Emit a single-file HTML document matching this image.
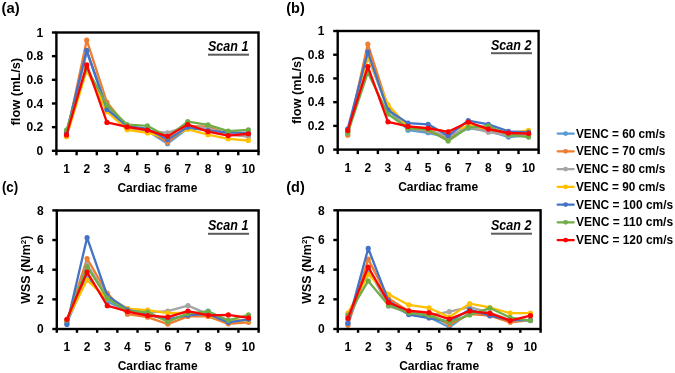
<!DOCTYPE html>
<html><head><meta charset="utf-8"><style>
html,body{margin:0;padding:0;background:#fff;}
body{width:675px;height:373px;overflow:hidden;font-family:"Liberation Sans",sans-serif;}
svg{display:block;will-change:transform;}
</style></head><body>
<svg width="675" height="373" viewBox="0 0 675 373">
<polyline points="66.50,133.06 86.72,51.43 106.93,108.21 127.13,127.14 147.34,130.69 167.56,143.70 187.77,128.32 207.98,129.51 228.19,134.24 248.40,135.42" fill="none" stroke="#5B9BD5" stroke-width="2.3" stroke-linejoin="round"/>
<circle cx="66.50" cy="133.06" r="2.6" fill="#5B9BD5"/>
<circle cx="86.72" cy="51.43" r="2.6" fill="#5B9BD5"/>
<circle cx="106.93" cy="108.21" r="2.6" fill="#5B9BD5"/>
<circle cx="127.13" cy="127.14" r="2.6" fill="#5B9BD5"/>
<circle cx="147.34" cy="130.69" r="2.6" fill="#5B9BD5"/>
<circle cx="167.56" cy="143.70" r="2.6" fill="#5B9BD5"/>
<circle cx="187.77" cy="128.32" r="2.6" fill="#5B9BD5"/>
<circle cx="207.98" cy="129.51" r="2.6" fill="#5B9BD5"/>
<circle cx="228.19" cy="134.24" r="2.6" fill="#5B9BD5"/>
<circle cx="248.40" cy="135.42" r="2.6" fill="#5B9BD5"/>
<polyline points="66.50,136.60 86.72,40.19 106.93,102.30 127.13,127.14 147.34,129.51 167.56,142.28 187.77,125.96 207.98,126.67 228.19,134.24 248.40,136.60" fill="none" stroke="#ED7D31" stroke-width="2.3" stroke-linejoin="round"/>
<circle cx="66.50" cy="136.60" r="2.6" fill="#ED7D31"/>
<circle cx="86.72" cy="40.19" r="2.6" fill="#ED7D31"/>
<circle cx="106.93" cy="102.30" r="2.6" fill="#ED7D31"/>
<circle cx="127.13" cy="127.14" r="2.6" fill="#ED7D31"/>
<circle cx="147.34" cy="129.51" r="2.6" fill="#ED7D31"/>
<circle cx="167.56" cy="142.28" r="2.6" fill="#ED7D31"/>
<circle cx="187.77" cy="125.96" r="2.6" fill="#ED7D31"/>
<circle cx="207.98" cy="126.67" r="2.6" fill="#ED7D31"/>
<circle cx="228.19" cy="134.24" r="2.6" fill="#ED7D31"/>
<circle cx="248.40" cy="136.60" r="2.6" fill="#ED7D31"/>
<polyline points="66.50,135.42 86.72,51.43 106.93,105.85 127.13,128.32 147.34,130.69 167.56,132.94 187.77,125.96 207.98,128.32 228.19,134.24 248.40,136.37" fill="none" stroke="#A5A5A5" stroke-width="2.3" stroke-linejoin="round"/>
<circle cx="66.50" cy="135.42" r="2.6" fill="#A5A5A5"/>
<circle cx="86.72" cy="51.43" r="2.6" fill="#A5A5A5"/>
<circle cx="106.93" cy="105.85" r="2.6" fill="#A5A5A5"/>
<circle cx="127.13" cy="128.32" r="2.6" fill="#A5A5A5"/>
<circle cx="147.34" cy="130.69" r="2.6" fill="#A5A5A5"/>
<circle cx="167.56" cy="132.94" r="2.6" fill="#A5A5A5"/>
<circle cx="187.77" cy="125.96" r="2.6" fill="#A5A5A5"/>
<circle cx="207.98" cy="128.32" r="2.6" fill="#A5A5A5"/>
<circle cx="228.19" cy="134.24" r="2.6" fill="#A5A5A5"/>
<circle cx="248.40" cy="136.37" r="2.6" fill="#A5A5A5"/>
<polyline points="66.50,136.60 86.72,70.36 106.93,111.76 127.13,129.74 147.34,132.94 167.56,137.79 187.77,129.27 207.98,134.71 228.19,138.85 248.40,140.51" fill="none" stroke="#FFC000" stroke-width="2.3" stroke-linejoin="round"/>
<circle cx="66.50" cy="136.60" r="2.6" fill="#FFC000"/>
<circle cx="86.72" cy="70.36" r="2.6" fill="#FFC000"/>
<circle cx="106.93" cy="111.76" r="2.6" fill="#FFC000"/>
<circle cx="127.13" cy="129.74" r="2.6" fill="#FFC000"/>
<circle cx="147.34" cy="132.94" r="2.6" fill="#FFC000"/>
<circle cx="167.56" cy="137.79" r="2.6" fill="#FFC000"/>
<circle cx="187.77" cy="129.27" r="2.6" fill="#FFC000"/>
<circle cx="207.98" cy="134.71" r="2.6" fill="#FFC000"/>
<circle cx="228.19" cy="138.85" r="2.6" fill="#FFC000"/>
<circle cx="248.40" cy="140.51" r="2.6" fill="#FFC000"/>
<polyline points="66.50,132.46 86.72,50.36 106.93,109.40 127.13,125.96 147.34,128.80 167.56,139.44 187.77,127.14 207.98,130.69 228.19,132.46 248.40,132.94" fill="none" stroke="#4472C4" stroke-width="2.3" stroke-linejoin="round"/>
<circle cx="66.50" cy="132.46" r="2.6" fill="#4472C4"/>
<circle cx="86.72" cy="50.36" r="2.6" fill="#4472C4"/>
<circle cx="106.93" cy="109.40" r="2.6" fill="#4472C4"/>
<circle cx="127.13" cy="125.96" r="2.6" fill="#4472C4"/>
<circle cx="147.34" cy="128.80" r="2.6" fill="#4472C4"/>
<circle cx="167.56" cy="139.44" r="2.6" fill="#4472C4"/>
<circle cx="187.77" cy="127.14" r="2.6" fill="#4472C4"/>
<circle cx="207.98" cy="130.69" r="2.6" fill="#4472C4"/>
<circle cx="228.19" cy="132.46" r="2.6" fill="#4472C4"/>
<circle cx="248.40" cy="132.94" r="2.6" fill="#4472C4"/>
<polyline points="66.50,130.10 86.72,67.99 106.93,105.25 127.13,124.54 147.34,125.84 167.56,136.84 187.77,121.70 207.98,124.89 228.19,131.04 248.40,129.86" fill="none" stroke="#70AD47" stroke-width="2.3" stroke-linejoin="round"/>
<circle cx="66.50" cy="130.10" r="2.6" fill="#70AD47"/>
<circle cx="86.72" cy="67.99" r="2.6" fill="#70AD47"/>
<circle cx="106.93" cy="105.25" r="2.6" fill="#70AD47"/>
<circle cx="127.13" cy="124.54" r="2.6" fill="#70AD47"/>
<circle cx="147.34" cy="125.84" r="2.6" fill="#70AD47"/>
<circle cx="167.56" cy="136.84" r="2.6" fill="#70AD47"/>
<circle cx="187.77" cy="121.70" r="2.6" fill="#70AD47"/>
<circle cx="207.98" cy="124.89" r="2.6" fill="#70AD47"/>
<circle cx="228.19" cy="131.04" r="2.6" fill="#70AD47"/>
<circle cx="248.40" cy="129.86" r="2.6" fill="#70AD47"/>
<polyline points="66.50,134.95 86.72,64.91 106.93,122.41 127.13,126.90 147.34,130.22 167.56,136.37 187.77,124.54 207.98,131.64 228.19,135.54 248.40,133.76" fill="none" stroke="#FF0000" stroke-width="2.3" stroke-linejoin="round"/>
<circle cx="66.50" cy="134.95" r="2.6" fill="#FF0000"/>
<circle cx="86.72" cy="64.91" r="2.6" fill="#FF0000"/>
<circle cx="106.93" cy="122.41" r="2.6" fill="#FF0000"/>
<circle cx="127.13" cy="126.90" r="2.6" fill="#FF0000"/>
<circle cx="147.34" cy="130.22" r="2.6" fill="#FF0000"/>
<circle cx="167.56" cy="136.37" r="2.6" fill="#FF0000"/>
<circle cx="187.77" cy="124.54" r="2.6" fill="#FF0000"/>
<circle cx="207.98" cy="131.64" r="2.6" fill="#FF0000"/>
<circle cx="228.19" cy="135.54" r="2.6" fill="#FF0000"/>
<circle cx="248.40" cy="133.76" r="2.6" fill="#FF0000"/>
<rect x="56.40" y="32.50" width="202.10" height="118.30" fill="none" stroke="#000" stroke-width="2.4"/>
<line x1="51.90" y1="150.80" x2="56.40" y2="150.80" stroke="#000" stroke-width="2.4"/>
<text x="43.20" y="155.00" text-anchor="end" font-family="Liberation Sans, sans-serif" font-weight="bold" font-size="12">0</text>
<line x1="51.90" y1="127.14" x2="56.40" y2="127.14" stroke="#000" stroke-width="2.4"/>
<text x="43.20" y="131.34" text-anchor="end" font-family="Liberation Sans, sans-serif" font-weight="bold" font-size="12">0.2</text>
<line x1="51.90" y1="103.48" x2="56.40" y2="103.48" stroke="#000" stroke-width="2.4"/>
<text x="43.20" y="107.68" text-anchor="end" font-family="Liberation Sans, sans-serif" font-weight="bold" font-size="12">0.4</text>
<line x1="51.90" y1="79.82" x2="56.40" y2="79.82" stroke="#000" stroke-width="2.4"/>
<text x="43.20" y="84.02" text-anchor="end" font-family="Liberation Sans, sans-serif" font-weight="bold" font-size="12">0.6</text>
<line x1="51.90" y1="56.16" x2="56.40" y2="56.16" stroke="#000" stroke-width="2.4"/>
<text x="43.20" y="60.36" text-anchor="end" font-family="Liberation Sans, sans-serif" font-weight="bold" font-size="12">0.8</text>
<line x1="51.90" y1="32.50" x2="56.40" y2="32.50" stroke="#000" stroke-width="2.4"/>
<text x="43.20" y="36.70" text-anchor="end" font-family="Liberation Sans, sans-serif" font-weight="bold" font-size="12">1</text>
<line x1="56.40" y1="150.80" x2="56.40" y2="155.30" stroke="#000" stroke-width="2.4"/>
<line x1="76.61" y1="150.80" x2="76.61" y2="155.30" stroke="#000" stroke-width="2.4"/>
<line x1="96.82" y1="150.80" x2="96.82" y2="155.30" stroke="#000" stroke-width="2.4"/>
<line x1="117.03" y1="150.80" x2="117.03" y2="155.30" stroke="#000" stroke-width="2.4"/>
<line x1="137.24" y1="150.80" x2="137.24" y2="155.30" stroke="#000" stroke-width="2.4"/>
<line x1="157.45" y1="150.80" x2="157.45" y2="155.30" stroke="#000" stroke-width="2.4"/>
<line x1="177.66" y1="150.80" x2="177.66" y2="155.30" stroke="#000" stroke-width="2.4"/>
<line x1="197.87" y1="150.80" x2="197.87" y2="155.30" stroke="#000" stroke-width="2.4"/>
<line x1="218.08" y1="150.80" x2="218.08" y2="155.30" stroke="#000" stroke-width="2.4"/>
<line x1="238.29" y1="150.80" x2="238.29" y2="155.30" stroke="#000" stroke-width="2.4"/>
<line x1="258.50" y1="150.80" x2="258.50" y2="155.30" stroke="#000" stroke-width="2.4"/>
<text x="66.50" y="173.10" text-anchor="middle" font-family="Liberation Sans, sans-serif" font-weight="bold" font-size="12">1</text>
<text x="86.72" y="173.10" text-anchor="middle" font-family="Liberation Sans, sans-serif" font-weight="bold" font-size="12">2</text>
<text x="106.93" y="173.10" text-anchor="middle" font-family="Liberation Sans, sans-serif" font-weight="bold" font-size="12">3</text>
<text x="127.13" y="173.10" text-anchor="middle" font-family="Liberation Sans, sans-serif" font-weight="bold" font-size="12">4</text>
<text x="147.34" y="173.10" text-anchor="middle" font-family="Liberation Sans, sans-serif" font-weight="bold" font-size="12">5</text>
<text x="167.56" y="173.10" text-anchor="middle" font-family="Liberation Sans, sans-serif" font-weight="bold" font-size="12">6</text>
<text x="187.77" y="173.10" text-anchor="middle" font-family="Liberation Sans, sans-serif" font-weight="bold" font-size="12">7</text>
<text x="207.98" y="173.10" text-anchor="middle" font-family="Liberation Sans, sans-serif" font-weight="bold" font-size="12">8</text>
<text x="228.19" y="173.10" text-anchor="middle" font-family="Liberation Sans, sans-serif" font-weight="bold" font-size="12">9</text>
<text x="248.40" y="173.10" text-anchor="middle" font-family="Liberation Sans, sans-serif" font-weight="bold" font-size="12">10</text>
<text x="157.45" y="192.20" text-anchor="middle" font-family="Liberation Sans, sans-serif" font-weight="bold" font-size="12">Cardiac frame</text>
<text x="208.00" y="51.00" font-family="Liberation Sans, sans-serif" font-weight="bold" font-style="italic" font-size="14.5" textLength="40.4" lengthAdjust="spacingAndGlyphs">Scan 1</text>
<rect x="208.00" y="53.70" width="41" height="2" fill="#5c5c5c"/>
<text transform="translate(20.00,91.65) rotate(-90)" text-anchor="middle" font-family="Liberation Sans, sans-serif" font-weight="bold" font-size="12" textLength="67.5" lengthAdjust="spacingAndGlyphs">flow (mL/s)</text>
<polyline points="347.75,131.81 367.83,54.72 387.93,109.28 408.01,130.15 428.11,132.76 448.19,137.74 468.29,128.25 488.38,130.62 508.47,137.03 528.56,135.37" fill="none" stroke="#5B9BD5" stroke-width="2.3" stroke-linejoin="round"/>
<circle cx="347.75" cy="131.81" r="2.6" fill="#5B9BD5"/>
<circle cx="367.83" cy="54.72" r="2.6" fill="#5B9BD5"/>
<circle cx="387.93" cy="109.28" r="2.6" fill="#5B9BD5"/>
<circle cx="408.01" cy="130.15" r="2.6" fill="#5B9BD5"/>
<circle cx="428.11" cy="132.76" r="2.6" fill="#5B9BD5"/>
<circle cx="448.19" cy="137.74" r="2.6" fill="#5B9BD5"/>
<circle cx="468.29" cy="128.25" r="2.6" fill="#5B9BD5"/>
<circle cx="488.38" cy="130.62" r="2.6" fill="#5B9BD5"/>
<circle cx="508.47" cy="137.03" r="2.6" fill="#5B9BD5"/>
<circle cx="528.56" cy="135.37" r="2.6" fill="#5B9BD5"/>
<polyline points="347.75,135.13 367.83,44.05 387.93,106.90 408.01,128.25 428.11,130.62 448.19,139.16 468.29,125.88 488.38,129.44 508.47,134.18 528.56,134.18" fill="none" stroke="#ED7D31" stroke-width="2.3" stroke-linejoin="round"/>
<circle cx="347.75" cy="135.13" r="2.6" fill="#ED7D31"/>
<circle cx="367.83" cy="44.05" r="2.6" fill="#ED7D31"/>
<circle cx="387.93" cy="106.90" r="2.6" fill="#ED7D31"/>
<circle cx="408.01" cy="128.25" r="2.6" fill="#ED7D31"/>
<circle cx="428.11" cy="130.62" r="2.6" fill="#ED7D31"/>
<circle cx="448.19" cy="139.16" r="2.6" fill="#ED7D31"/>
<circle cx="468.29" cy="125.88" r="2.6" fill="#ED7D31"/>
<circle cx="488.38" cy="129.44" r="2.6" fill="#ED7D31"/>
<circle cx="508.47" cy="134.18" r="2.6" fill="#ED7D31"/>
<circle cx="528.56" cy="134.18" r="2.6" fill="#ED7D31"/>
<polyline points="347.75,133.00 367.83,57.09 387.93,108.09 408.01,128.49 428.11,130.03 448.19,136.55 468.29,127.07 488.38,132.17 508.47,135.37 528.56,135.37" fill="none" stroke="#A5A5A5" stroke-width="2.3" stroke-linejoin="round"/>
<circle cx="347.75" cy="133.00" r="2.6" fill="#A5A5A5"/>
<circle cx="367.83" cy="57.09" r="2.6" fill="#A5A5A5"/>
<circle cx="387.93" cy="108.09" r="2.6" fill="#A5A5A5"/>
<circle cx="408.01" cy="128.49" r="2.6" fill="#A5A5A5"/>
<circle cx="428.11" cy="130.03" r="2.6" fill="#A5A5A5"/>
<circle cx="448.19" cy="136.55" r="2.6" fill="#A5A5A5"/>
<circle cx="468.29" cy="127.07" r="2.6" fill="#A5A5A5"/>
<circle cx="488.38" cy="132.17" r="2.6" fill="#A5A5A5"/>
<circle cx="508.47" cy="135.37" r="2.6" fill="#A5A5A5"/>
<circle cx="528.56" cy="135.37" r="2.6" fill="#A5A5A5"/>
<polyline points="347.75,131.81 367.83,57.09 387.93,104.53 408.01,127.07 428.11,128.49 448.19,131.81 468.29,125.88 488.38,128.25 508.47,133.00 528.56,130.27" fill="none" stroke="#FFC000" stroke-width="2.3" stroke-linejoin="round"/>
<circle cx="347.75" cy="131.81" r="2.6" fill="#FFC000"/>
<circle cx="367.83" cy="57.09" r="2.6" fill="#FFC000"/>
<circle cx="387.93" cy="104.53" r="2.6" fill="#FFC000"/>
<circle cx="408.01" cy="127.07" r="2.6" fill="#FFC000"/>
<circle cx="428.11" cy="128.49" r="2.6" fill="#FFC000"/>
<circle cx="448.19" cy="131.81" r="2.6" fill="#FFC000"/>
<circle cx="468.29" cy="125.88" r="2.6" fill="#FFC000"/>
<circle cx="488.38" cy="128.25" r="2.6" fill="#FFC000"/>
<circle cx="508.47" cy="133.00" r="2.6" fill="#FFC000"/>
<circle cx="528.56" cy="130.27" r="2.6" fill="#FFC000"/>
<polyline points="347.75,128.84 367.83,51.87 387.93,110.11 408.01,123.15 428.11,124.34 448.19,135.84 468.29,120.54 488.38,124.34 508.47,131.34 528.56,132.40" fill="none" stroke="#4472C4" stroke-width="2.3" stroke-linejoin="round"/>
<circle cx="347.75" cy="128.84" r="2.6" fill="#4472C4"/>
<circle cx="367.83" cy="51.87" r="2.6" fill="#4472C4"/>
<circle cx="387.93" cy="110.11" r="2.6" fill="#4472C4"/>
<circle cx="408.01" cy="123.15" r="2.6" fill="#4472C4"/>
<circle cx="428.11" cy="124.34" r="2.6" fill="#4472C4"/>
<circle cx="448.19" cy="135.84" r="2.6" fill="#4472C4"/>
<circle cx="468.29" cy="120.54" r="2.6" fill="#4472C4"/>
<circle cx="488.38" cy="124.34" r="2.6" fill="#4472C4"/>
<circle cx="508.47" cy="131.34" r="2.6" fill="#4472C4"/>
<circle cx="528.56" cy="132.40" r="2.6" fill="#4472C4"/>
<polyline points="347.75,133.00 367.83,72.51 387.93,114.02 408.01,128.25 428.11,129.68 448.19,140.94 468.29,127.30 488.38,126.12 508.47,134.78 528.56,137.03" fill="none" stroke="#70AD47" stroke-width="2.3" stroke-linejoin="round"/>
<circle cx="347.75" cy="133.00" r="2.6" fill="#70AD47"/>
<circle cx="367.83" cy="72.51" r="2.6" fill="#70AD47"/>
<circle cx="387.93" cy="114.02" r="2.6" fill="#70AD47"/>
<circle cx="408.01" cy="128.25" r="2.6" fill="#70AD47"/>
<circle cx="428.11" cy="129.68" r="2.6" fill="#70AD47"/>
<circle cx="448.19" cy="140.94" r="2.6" fill="#70AD47"/>
<circle cx="468.29" cy="127.30" r="2.6" fill="#70AD47"/>
<circle cx="488.38" cy="126.12" r="2.6" fill="#70AD47"/>
<circle cx="508.47" cy="134.78" r="2.6" fill="#70AD47"/>
<circle cx="528.56" cy="137.03" r="2.6" fill="#70AD47"/>
<polyline points="347.75,130.39 367.83,66.58 387.93,121.85 408.01,126.47 428.11,128.25 448.19,131.81 468.29,122.08 488.38,129.08 508.47,133.00 528.56,133.59" fill="none" stroke="#FF0000" stroke-width="2.3" stroke-linejoin="round"/>
<circle cx="347.75" cy="130.39" r="2.6" fill="#FF0000"/>
<circle cx="367.83" cy="66.58" r="2.6" fill="#FF0000"/>
<circle cx="387.93" cy="121.85" r="2.6" fill="#FF0000"/>
<circle cx="408.01" cy="126.47" r="2.6" fill="#FF0000"/>
<circle cx="428.11" cy="128.25" r="2.6" fill="#FF0000"/>
<circle cx="448.19" cy="131.81" r="2.6" fill="#FF0000"/>
<circle cx="468.29" cy="122.08" r="2.6" fill="#FF0000"/>
<circle cx="488.38" cy="129.08" r="2.6" fill="#FF0000"/>
<circle cx="508.47" cy="133.00" r="2.6" fill="#FF0000"/>
<circle cx="528.56" cy="133.59" r="2.6" fill="#FF0000"/>
<rect x="337.70" y="31.00" width="200.90" height="118.60" fill="none" stroke="#000" stroke-width="2.4"/>
<line x1="333.20" y1="149.60" x2="337.70" y2="149.60" stroke="#000" stroke-width="2.4"/>
<text x="324.50" y="153.80" text-anchor="end" font-family="Liberation Sans, sans-serif" font-weight="bold" font-size="12">0</text>
<line x1="333.20" y1="125.88" x2="337.70" y2="125.88" stroke="#000" stroke-width="2.4"/>
<text x="324.50" y="130.08" text-anchor="end" font-family="Liberation Sans, sans-serif" font-weight="bold" font-size="12">0.2</text>
<line x1="333.20" y1="102.16" x2="337.70" y2="102.16" stroke="#000" stroke-width="2.4"/>
<text x="324.50" y="106.36" text-anchor="end" font-family="Liberation Sans, sans-serif" font-weight="bold" font-size="12">0.4</text>
<line x1="333.20" y1="78.44" x2="337.70" y2="78.44" stroke="#000" stroke-width="2.4"/>
<text x="324.50" y="82.64" text-anchor="end" font-family="Liberation Sans, sans-serif" font-weight="bold" font-size="12">0.6</text>
<line x1="333.20" y1="54.72" x2="337.70" y2="54.72" stroke="#000" stroke-width="2.4"/>
<text x="324.50" y="58.92" text-anchor="end" font-family="Liberation Sans, sans-serif" font-weight="bold" font-size="12">0.8</text>
<line x1="333.20" y1="31.00" x2="337.70" y2="31.00" stroke="#000" stroke-width="2.4"/>
<text x="324.50" y="35.20" text-anchor="end" font-family="Liberation Sans, sans-serif" font-weight="bold" font-size="12">1</text>
<line x1="337.70" y1="149.60" x2="337.70" y2="154.10" stroke="#000" stroke-width="2.4"/>
<line x1="357.79" y1="149.60" x2="357.79" y2="154.10" stroke="#000" stroke-width="2.4"/>
<line x1="377.88" y1="149.60" x2="377.88" y2="154.10" stroke="#000" stroke-width="2.4"/>
<line x1="397.97" y1="149.60" x2="397.97" y2="154.10" stroke="#000" stroke-width="2.4"/>
<line x1="418.06" y1="149.60" x2="418.06" y2="154.10" stroke="#000" stroke-width="2.4"/>
<line x1="438.15" y1="149.60" x2="438.15" y2="154.10" stroke="#000" stroke-width="2.4"/>
<line x1="458.24" y1="149.60" x2="458.24" y2="154.10" stroke="#000" stroke-width="2.4"/>
<line x1="478.33" y1="149.60" x2="478.33" y2="154.10" stroke="#000" stroke-width="2.4"/>
<line x1="498.42" y1="149.60" x2="498.42" y2="154.10" stroke="#000" stroke-width="2.4"/>
<line x1="518.51" y1="149.60" x2="518.51" y2="154.10" stroke="#000" stroke-width="2.4"/>
<line x1="538.60" y1="149.60" x2="538.60" y2="154.10" stroke="#000" stroke-width="2.4"/>
<text x="347.75" y="172.00" text-anchor="middle" font-family="Liberation Sans, sans-serif" font-weight="bold" font-size="12">1</text>
<text x="367.83" y="172.00" text-anchor="middle" font-family="Liberation Sans, sans-serif" font-weight="bold" font-size="12">2</text>
<text x="387.93" y="172.00" text-anchor="middle" font-family="Liberation Sans, sans-serif" font-weight="bold" font-size="12">3</text>
<text x="408.01" y="172.00" text-anchor="middle" font-family="Liberation Sans, sans-serif" font-weight="bold" font-size="12">4</text>
<text x="428.11" y="172.00" text-anchor="middle" font-family="Liberation Sans, sans-serif" font-weight="bold" font-size="12">5</text>
<text x="448.19" y="172.00" text-anchor="middle" font-family="Liberation Sans, sans-serif" font-weight="bold" font-size="12">6</text>
<text x="468.29" y="172.00" text-anchor="middle" font-family="Liberation Sans, sans-serif" font-weight="bold" font-size="12">7</text>
<text x="488.38" y="172.00" text-anchor="middle" font-family="Liberation Sans, sans-serif" font-weight="bold" font-size="12">8</text>
<text x="508.47" y="172.00" text-anchor="middle" font-family="Liberation Sans, sans-serif" font-weight="bold" font-size="12">9</text>
<text x="528.56" y="172.00" text-anchor="middle" font-family="Liberation Sans, sans-serif" font-weight="bold" font-size="12">10</text>
<text x="438.15" y="191.00" text-anchor="middle" font-family="Liberation Sans, sans-serif" font-weight="bold" font-size="12">Cardiac frame</text>
<text x="491.00" y="49.50" font-family="Liberation Sans, sans-serif" font-weight="bold" font-style="italic" font-size="14.5" textLength="40.4" lengthAdjust="spacingAndGlyphs">Scan 2</text>
<rect x="491.00" y="52.20" width="41" height="2" fill="#5c5c5c"/>
<text transform="translate(300.50,90.30) rotate(-90)" text-anchor="middle" font-family="Liberation Sans, sans-serif" font-weight="bold" font-size="12" textLength="67.5" lengthAdjust="spacingAndGlyphs">flow (mL/s)</text>
<polyline points="66.89,323.07 87.07,276.37 107.25,301.43 127.43,311.21 147.61,314.18 167.79,320.11 187.97,314.92 208.15,311.21 228.33,321.59 248.51,320.11" fill="none" stroke="#5B9BD5" stroke-width="2.3" stroke-linejoin="round"/>
<circle cx="66.89" cy="323.07" r="2.6" fill="#5B9BD5"/>
<circle cx="87.07" cy="276.37" r="2.6" fill="#5B9BD5"/>
<circle cx="107.25" cy="301.43" r="2.6" fill="#5B9BD5"/>
<circle cx="127.43" cy="311.21" r="2.6" fill="#5B9BD5"/>
<circle cx="147.61" cy="314.18" r="2.6" fill="#5B9BD5"/>
<circle cx="167.79" cy="320.11" r="2.6" fill="#5B9BD5"/>
<circle cx="187.97" cy="314.92" r="2.6" fill="#5B9BD5"/>
<circle cx="208.15" cy="311.21" r="2.6" fill="#5B9BD5"/>
<circle cx="228.33" cy="321.59" r="2.6" fill="#5B9BD5"/>
<circle cx="248.51" cy="320.11" r="2.6" fill="#5B9BD5"/>
<polyline points="66.89,321.59 87.07,258.58 107.25,293.42 127.43,314.18 147.61,317.14 167.79,324.11 187.97,316.40 208.15,316.40 228.33,323.81 248.51,322.33" fill="none" stroke="#ED7D31" stroke-width="2.3" stroke-linejoin="round"/>
<circle cx="66.89" cy="321.59" r="2.6" fill="#ED7D31"/>
<circle cx="87.07" cy="258.58" r="2.6" fill="#ED7D31"/>
<circle cx="107.25" cy="293.42" r="2.6" fill="#ED7D31"/>
<circle cx="127.43" cy="314.18" r="2.6" fill="#ED7D31"/>
<circle cx="147.61" cy="317.14" r="2.6" fill="#ED7D31"/>
<circle cx="167.79" cy="324.11" r="2.6" fill="#ED7D31"/>
<circle cx="187.97" cy="316.40" r="2.6" fill="#ED7D31"/>
<circle cx="208.15" cy="316.40" r="2.6" fill="#ED7D31"/>
<circle cx="228.33" cy="323.81" r="2.6" fill="#ED7D31"/>
<circle cx="248.51" cy="322.33" r="2.6" fill="#ED7D31"/>
<polyline points="66.89,321.59 87.07,264.66 107.25,296.38 127.43,308.54 147.61,312.69 167.79,311.06 187.97,305.58 208.15,314.18 228.33,320.11 248.51,320.11" fill="none" stroke="#A5A5A5" stroke-width="2.3" stroke-linejoin="round"/>
<circle cx="66.89" cy="321.59" r="2.6" fill="#A5A5A5"/>
<circle cx="87.07" cy="264.66" r="2.6" fill="#A5A5A5"/>
<circle cx="107.25" cy="296.38" r="2.6" fill="#A5A5A5"/>
<circle cx="127.43" cy="308.54" r="2.6" fill="#A5A5A5"/>
<circle cx="147.61" cy="312.69" r="2.6" fill="#A5A5A5"/>
<circle cx="167.79" cy="311.06" r="2.6" fill="#A5A5A5"/>
<circle cx="187.97" cy="305.58" r="2.6" fill="#A5A5A5"/>
<circle cx="208.15" cy="314.18" r="2.6" fill="#A5A5A5"/>
<circle cx="228.33" cy="320.11" r="2.6" fill="#A5A5A5"/>
<circle cx="248.51" cy="320.11" r="2.6" fill="#A5A5A5"/>
<polyline points="66.89,320.11 87.07,280.08 107.25,298.61 127.43,308.54 147.61,310.17 167.79,313.14 187.97,312.69 208.15,315.66 228.33,320.85 248.51,320.11" fill="none" stroke="#FFC000" stroke-width="2.3" stroke-linejoin="round"/>
<circle cx="66.89" cy="320.11" r="2.6" fill="#FFC000"/>
<circle cx="87.07" cy="280.08" r="2.6" fill="#FFC000"/>
<circle cx="107.25" cy="298.61" r="2.6" fill="#FFC000"/>
<circle cx="127.43" cy="308.54" r="2.6" fill="#FFC000"/>
<circle cx="147.61" cy="310.17" r="2.6" fill="#FFC000"/>
<circle cx="167.79" cy="313.14" r="2.6" fill="#FFC000"/>
<circle cx="187.97" cy="312.69" r="2.6" fill="#FFC000"/>
<circle cx="208.15" cy="315.66" r="2.6" fill="#FFC000"/>
<circle cx="228.33" cy="320.85" r="2.6" fill="#FFC000"/>
<circle cx="248.51" cy="320.11" r="2.6" fill="#FFC000"/>
<polyline points="66.89,324.40 87.07,237.68 107.25,295.64 127.43,309.73 147.61,314.18 167.79,319.36 187.97,315.21 208.15,314.18 228.33,322.33 248.51,319.36" fill="none" stroke="#4472C4" stroke-width="2.3" stroke-linejoin="round"/>
<circle cx="66.89" cy="324.40" r="2.6" fill="#4472C4"/>
<circle cx="87.07" cy="237.68" r="2.6" fill="#4472C4"/>
<circle cx="107.25" cy="295.64" r="2.6" fill="#4472C4"/>
<circle cx="127.43" cy="309.73" r="2.6" fill="#4472C4"/>
<circle cx="147.61" cy="314.18" r="2.6" fill="#4472C4"/>
<circle cx="167.79" cy="319.36" r="2.6" fill="#4472C4"/>
<circle cx="187.97" cy="315.21" r="2.6" fill="#4472C4"/>
<circle cx="208.15" cy="314.18" r="2.6" fill="#4472C4"/>
<circle cx="228.33" cy="322.33" r="2.6" fill="#4472C4"/>
<circle cx="248.51" cy="319.36" r="2.6" fill="#4472C4"/>
<polyline points="66.89,320.11 87.07,266.74 107.25,298.16 127.43,311.21 147.61,312.10 167.79,321.59 187.97,313.43 208.15,311.65 228.33,320.25 248.51,314.92" fill="none" stroke="#70AD47" stroke-width="2.3" stroke-linejoin="round"/>
<circle cx="66.89" cy="320.11" r="2.6" fill="#70AD47"/>
<circle cx="87.07" cy="266.74" r="2.6" fill="#70AD47"/>
<circle cx="107.25" cy="298.16" r="2.6" fill="#70AD47"/>
<circle cx="127.43" cy="311.21" r="2.6" fill="#70AD47"/>
<circle cx="147.61" cy="312.10" r="2.6" fill="#70AD47"/>
<circle cx="167.79" cy="321.59" r="2.6" fill="#70AD47"/>
<circle cx="187.97" cy="313.43" r="2.6" fill="#70AD47"/>
<circle cx="208.15" cy="311.65" r="2.6" fill="#70AD47"/>
<circle cx="228.33" cy="320.25" r="2.6" fill="#70AD47"/>
<circle cx="248.51" cy="314.92" r="2.6" fill="#70AD47"/>
<polyline points="66.89,319.36 87.07,272.07 107.25,305.72 127.43,311.51 147.61,315.51 167.79,317.14 187.97,311.06 208.15,315.36 228.33,314.92 248.51,317.88" fill="none" stroke="#FF0000" stroke-width="2.3" stroke-linejoin="round"/>
<circle cx="66.89" cy="319.36" r="2.6" fill="#FF0000"/>
<circle cx="87.07" cy="272.07" r="2.6" fill="#FF0000"/>
<circle cx="107.25" cy="305.72" r="2.6" fill="#FF0000"/>
<circle cx="127.43" cy="311.51" r="2.6" fill="#FF0000"/>
<circle cx="147.61" cy="315.51" r="2.6" fill="#FF0000"/>
<circle cx="167.79" cy="317.14" r="2.6" fill="#FF0000"/>
<circle cx="187.97" cy="311.06" r="2.6" fill="#FF0000"/>
<circle cx="208.15" cy="315.36" r="2.6" fill="#FF0000"/>
<circle cx="228.33" cy="314.92" r="2.6" fill="#FF0000"/>
<circle cx="248.51" cy="317.88" r="2.6" fill="#FF0000"/>
<rect x="56.80" y="210.40" width="201.80" height="118.60" fill="none" stroke="#000" stroke-width="2.4"/>
<line x1="52.30" y1="329.00" x2="56.80" y2="329.00" stroke="#000" stroke-width="2.4"/>
<text x="43.60" y="333.20" text-anchor="end" font-family="Liberation Sans, sans-serif" font-weight="bold" font-size="12">0</text>
<line x1="52.30" y1="299.35" x2="56.80" y2="299.35" stroke="#000" stroke-width="2.4"/>
<text x="43.60" y="303.55" text-anchor="end" font-family="Liberation Sans, sans-serif" font-weight="bold" font-size="12">2</text>
<line x1="52.30" y1="269.70" x2="56.80" y2="269.70" stroke="#000" stroke-width="2.4"/>
<text x="43.60" y="273.90" text-anchor="end" font-family="Liberation Sans, sans-serif" font-weight="bold" font-size="12">4</text>
<line x1="52.30" y1="240.05" x2="56.80" y2="240.05" stroke="#000" stroke-width="2.4"/>
<text x="43.60" y="244.25" text-anchor="end" font-family="Liberation Sans, sans-serif" font-weight="bold" font-size="12">6</text>
<line x1="52.30" y1="210.40" x2="56.80" y2="210.40" stroke="#000" stroke-width="2.4"/>
<text x="43.60" y="214.60" text-anchor="end" font-family="Liberation Sans, sans-serif" font-weight="bold" font-size="12">8</text>
<line x1="56.80" y1="329.00" x2="56.80" y2="332.80" stroke="#000" stroke-width="2.4"/>
<line x1="76.98" y1="329.00" x2="76.98" y2="332.80" stroke="#000" stroke-width="2.4"/>
<line x1="97.16" y1="329.00" x2="97.16" y2="332.80" stroke="#000" stroke-width="2.4"/>
<line x1="117.34" y1="329.00" x2="117.34" y2="332.80" stroke="#000" stroke-width="2.4"/>
<line x1="137.52" y1="329.00" x2="137.52" y2="332.80" stroke="#000" stroke-width="2.4"/>
<line x1="157.70" y1="329.00" x2="157.70" y2="332.80" stroke="#000" stroke-width="2.4"/>
<line x1="177.88" y1="329.00" x2="177.88" y2="332.80" stroke="#000" stroke-width="2.4"/>
<line x1="198.06" y1="329.00" x2="198.06" y2="332.80" stroke="#000" stroke-width="2.4"/>
<line x1="218.24" y1="329.00" x2="218.24" y2="332.80" stroke="#000" stroke-width="2.4"/>
<line x1="238.42" y1="329.00" x2="238.42" y2="332.80" stroke="#000" stroke-width="2.4"/>
<line x1="258.60" y1="329.00" x2="258.60" y2="332.80" stroke="#000" stroke-width="2.4"/>
<text x="66.89" y="351.10" text-anchor="middle" font-family="Liberation Sans, sans-serif" font-weight="bold" font-size="12">1</text>
<text x="87.07" y="351.10" text-anchor="middle" font-family="Liberation Sans, sans-serif" font-weight="bold" font-size="12">2</text>
<text x="107.25" y="351.10" text-anchor="middle" font-family="Liberation Sans, sans-serif" font-weight="bold" font-size="12">3</text>
<text x="127.43" y="351.10" text-anchor="middle" font-family="Liberation Sans, sans-serif" font-weight="bold" font-size="12">4</text>
<text x="147.61" y="351.10" text-anchor="middle" font-family="Liberation Sans, sans-serif" font-weight="bold" font-size="12">5</text>
<text x="167.79" y="351.10" text-anchor="middle" font-family="Liberation Sans, sans-serif" font-weight="bold" font-size="12">6</text>
<text x="187.97" y="351.10" text-anchor="middle" font-family="Liberation Sans, sans-serif" font-weight="bold" font-size="12">7</text>
<text x="208.15" y="351.10" text-anchor="middle" font-family="Liberation Sans, sans-serif" font-weight="bold" font-size="12">8</text>
<text x="228.33" y="351.10" text-anchor="middle" font-family="Liberation Sans, sans-serif" font-weight="bold" font-size="12">9</text>
<text x="248.51" y="351.10" text-anchor="middle" font-family="Liberation Sans, sans-serif" font-weight="bold" font-size="12">10</text>
<text x="157.70" y="370.10" text-anchor="middle" font-family="Liberation Sans, sans-serif" font-weight="bold" font-size="12">Cardiac frame</text>
<text x="208.00" y="230.10" font-family="Liberation Sans, sans-serif" font-weight="bold" font-style="italic" font-size="14.5" textLength="40.4" lengthAdjust="spacingAndGlyphs">Scan 1</text>
<rect x="208.00" y="232.80" width="41" height="2" fill="#5c5c5c"/>
<text transform="translate(30.00,269.70) rotate(-90)" text-anchor="middle" font-family="Liberation Sans, sans-serif" font-weight="bold" font-size="12.5">WSS (N/m<tspan dy="-4" font-size="8">2</tspan><tspan dy="4">)</tspan></text>
<polyline points="347.94,323.06 368.22,269.65 388.50,303.78 408.78,314.16 429.06,317.13 449.34,327.22 469.62,312.68 489.90,315.65 510.18,320.10 530.46,320.10" fill="none" stroke="#5B9BD5" stroke-width="2.3" stroke-linejoin="round"/>
<circle cx="347.94" cy="323.06" r="2.6" fill="#5B9BD5"/>
<circle cx="368.22" cy="269.65" r="2.6" fill="#5B9BD5"/>
<circle cx="388.50" cy="303.78" r="2.6" fill="#5B9BD5"/>
<circle cx="408.78" cy="314.16" r="2.6" fill="#5B9BD5"/>
<circle cx="429.06" cy="317.13" r="2.6" fill="#5B9BD5"/>
<circle cx="449.34" cy="327.22" r="2.6" fill="#5B9BD5"/>
<circle cx="469.62" cy="312.68" r="2.6" fill="#5B9BD5"/>
<circle cx="489.90" cy="315.65" r="2.6" fill="#5B9BD5"/>
<circle cx="510.18" cy="320.10" r="2.6" fill="#5B9BD5"/>
<circle cx="530.46" cy="320.10" r="2.6" fill="#5B9BD5"/>
<polyline points="347.94,325.29 368.22,259.12 388.50,298.58 408.78,311.19 429.06,314.16 449.34,324.55 469.62,314.16 489.90,315.65 510.18,322.32 530.46,320.10" fill="none" stroke="#ED7D31" stroke-width="2.3" stroke-linejoin="round"/>
<circle cx="347.94" cy="325.29" r="2.6" fill="#ED7D31"/>
<circle cx="368.22" cy="259.12" r="2.6" fill="#ED7D31"/>
<circle cx="388.50" cy="298.58" r="2.6" fill="#ED7D31"/>
<circle cx="408.78" cy="311.19" r="2.6" fill="#ED7D31"/>
<circle cx="429.06" cy="314.16" r="2.6" fill="#ED7D31"/>
<circle cx="449.34" cy="324.55" r="2.6" fill="#ED7D31"/>
<circle cx="469.62" cy="314.16" r="2.6" fill="#ED7D31"/>
<circle cx="489.90" cy="315.65" r="2.6" fill="#ED7D31"/>
<circle cx="510.18" cy="322.32" r="2.6" fill="#ED7D31"/>
<circle cx="530.46" cy="320.10" r="2.6" fill="#ED7D31"/>
<polyline points="347.94,320.10 368.22,268.17 388.50,306.15 408.78,312.68 429.06,315.65 449.34,311.64 469.62,307.19 489.90,312.68 510.18,320.10 530.46,320.54" fill="none" stroke="#A5A5A5" stroke-width="2.3" stroke-linejoin="round"/>
<circle cx="347.94" cy="320.10" r="2.6" fill="#A5A5A5"/>
<circle cx="368.22" cy="268.17" r="2.6" fill="#A5A5A5"/>
<circle cx="388.50" cy="306.15" r="2.6" fill="#A5A5A5"/>
<circle cx="408.78" cy="312.68" r="2.6" fill="#A5A5A5"/>
<circle cx="429.06" cy="315.65" r="2.6" fill="#A5A5A5"/>
<circle cx="449.34" cy="311.64" r="2.6" fill="#A5A5A5"/>
<circle cx="469.62" cy="307.19" r="2.6" fill="#A5A5A5"/>
<circle cx="489.90" cy="312.68" r="2.6" fill="#A5A5A5"/>
<circle cx="510.18" cy="320.10" r="2.6" fill="#A5A5A5"/>
<circle cx="530.46" cy="320.54" r="2.6" fill="#A5A5A5"/>
<polyline points="347.94,313.12 368.22,274.55 388.50,294.28 408.78,304.96 429.06,307.93 449.34,316.98 469.62,303.63 489.90,307.49 510.18,313.12 530.46,313.12" fill="none" stroke="#FFC000" stroke-width="2.3" stroke-linejoin="round"/>
<circle cx="347.94" cy="313.12" r="2.6" fill="#FFC000"/>
<circle cx="368.22" cy="274.55" r="2.6" fill="#FFC000"/>
<circle cx="388.50" cy="294.28" r="2.6" fill="#FFC000"/>
<circle cx="408.78" cy="304.96" r="2.6" fill="#FFC000"/>
<circle cx="429.06" cy="307.93" r="2.6" fill="#FFC000"/>
<circle cx="449.34" cy="316.98" r="2.6" fill="#FFC000"/>
<circle cx="469.62" cy="303.63" r="2.6" fill="#FFC000"/>
<circle cx="489.90" cy="307.49" r="2.6" fill="#FFC000"/>
<circle cx="510.18" cy="313.12" r="2.6" fill="#FFC000"/>
<circle cx="530.46" cy="313.12" r="2.6" fill="#FFC000"/>
<polyline points="347.94,323.36 368.22,248.43 388.50,300.81 408.78,314.61 429.06,318.02 449.34,321.58 469.62,309.71 489.90,315.65 510.18,320.10 530.46,320.10" fill="none" stroke="#4472C4" stroke-width="2.3" stroke-linejoin="round"/>
<circle cx="347.94" cy="323.36" r="2.6" fill="#4472C4"/>
<circle cx="368.22" cy="248.43" r="2.6" fill="#4472C4"/>
<circle cx="388.50" cy="300.81" r="2.6" fill="#4472C4"/>
<circle cx="408.78" cy="314.61" r="2.6" fill="#4472C4"/>
<circle cx="429.06" cy="318.02" r="2.6" fill="#4472C4"/>
<circle cx="449.34" cy="321.58" r="2.6" fill="#4472C4"/>
<circle cx="469.62" cy="309.71" r="2.6" fill="#4472C4"/>
<circle cx="489.90" cy="315.65" r="2.6" fill="#4472C4"/>
<circle cx="510.18" cy="320.10" r="2.6" fill="#4472C4"/>
<circle cx="530.46" cy="320.10" r="2.6" fill="#4472C4"/>
<polyline points="347.94,315.20 368.22,280.93 388.50,305.26 408.78,312.98 429.06,315.65 449.34,322.32 469.62,314.90 489.90,308.08 510.18,317.58 530.46,320.54" fill="none" stroke="#70AD47" stroke-width="2.3" stroke-linejoin="round"/>
<circle cx="347.94" cy="315.20" r="2.6" fill="#70AD47"/>
<circle cx="368.22" cy="280.93" r="2.6" fill="#70AD47"/>
<circle cx="388.50" cy="305.26" r="2.6" fill="#70AD47"/>
<circle cx="408.78" cy="312.98" r="2.6" fill="#70AD47"/>
<circle cx="429.06" cy="315.65" r="2.6" fill="#70AD47"/>
<circle cx="449.34" cy="322.32" r="2.6" fill="#70AD47"/>
<circle cx="469.62" cy="314.90" r="2.6" fill="#70AD47"/>
<circle cx="489.90" cy="308.08" r="2.6" fill="#70AD47"/>
<circle cx="510.18" cy="317.58" r="2.6" fill="#70AD47"/>
<circle cx="530.46" cy="320.54" r="2.6" fill="#70AD47"/>
<polyline points="347.94,318.17 368.22,266.98 388.50,302.44 408.78,310.75 429.06,312.68 449.34,319.06 469.62,311.05 489.90,313.42 510.18,320.54 530.46,315.65" fill="none" stroke="#FF0000" stroke-width="2.3" stroke-linejoin="round"/>
<circle cx="347.94" cy="318.17" r="2.6" fill="#FF0000"/>
<circle cx="368.22" cy="266.98" r="2.6" fill="#FF0000"/>
<circle cx="388.50" cy="302.44" r="2.6" fill="#FF0000"/>
<circle cx="408.78" cy="310.75" r="2.6" fill="#FF0000"/>
<circle cx="429.06" cy="312.68" r="2.6" fill="#FF0000"/>
<circle cx="449.34" cy="319.06" r="2.6" fill="#FF0000"/>
<circle cx="469.62" cy="311.05" r="2.6" fill="#FF0000"/>
<circle cx="489.90" cy="313.42" r="2.6" fill="#FF0000"/>
<circle cx="510.18" cy="320.54" r="2.6" fill="#FF0000"/>
<circle cx="530.46" cy="315.65" r="2.6" fill="#FF0000"/>
<rect x="337.80" y="210.30" width="202.80" height="118.70" fill="none" stroke="#000" stroke-width="2.4"/>
<line x1="333.30" y1="329.00" x2="337.80" y2="329.00" stroke="#000" stroke-width="2.4"/>
<text x="324.60" y="333.20" text-anchor="end" font-family="Liberation Sans, sans-serif" font-weight="bold" font-size="12">0</text>
<line x1="333.30" y1="299.32" x2="337.80" y2="299.32" stroke="#000" stroke-width="2.4"/>
<text x="324.60" y="303.52" text-anchor="end" font-family="Liberation Sans, sans-serif" font-weight="bold" font-size="12">2</text>
<line x1="333.30" y1="269.65" x2="337.80" y2="269.65" stroke="#000" stroke-width="2.4"/>
<text x="324.60" y="273.85" text-anchor="end" font-family="Liberation Sans, sans-serif" font-weight="bold" font-size="12">4</text>
<line x1="333.30" y1="239.98" x2="337.80" y2="239.98" stroke="#000" stroke-width="2.4"/>
<text x="324.60" y="244.18" text-anchor="end" font-family="Liberation Sans, sans-serif" font-weight="bold" font-size="12">6</text>
<line x1="333.30" y1="210.30" x2="337.80" y2="210.30" stroke="#000" stroke-width="2.4"/>
<text x="324.60" y="214.50" text-anchor="end" font-family="Liberation Sans, sans-serif" font-weight="bold" font-size="12">8</text>
<line x1="337.80" y1="329.00" x2="337.80" y2="332.80" stroke="#000" stroke-width="2.4"/>
<line x1="358.08" y1="329.00" x2="358.08" y2="332.80" stroke="#000" stroke-width="2.4"/>
<line x1="378.36" y1="329.00" x2="378.36" y2="332.80" stroke="#000" stroke-width="2.4"/>
<line x1="398.64" y1="329.00" x2="398.64" y2="332.80" stroke="#000" stroke-width="2.4"/>
<line x1="418.92" y1="329.00" x2="418.92" y2="332.80" stroke="#000" stroke-width="2.4"/>
<line x1="439.20" y1="329.00" x2="439.20" y2="332.80" stroke="#000" stroke-width="2.4"/>
<line x1="459.48" y1="329.00" x2="459.48" y2="332.80" stroke="#000" stroke-width="2.4"/>
<line x1="479.76" y1="329.00" x2="479.76" y2="332.80" stroke="#000" stroke-width="2.4"/>
<line x1="500.04" y1="329.00" x2="500.04" y2="332.80" stroke="#000" stroke-width="2.4"/>
<line x1="520.32" y1="329.00" x2="520.32" y2="332.80" stroke="#000" stroke-width="2.4"/>
<line x1="540.60" y1="329.00" x2="540.60" y2="332.80" stroke="#000" stroke-width="2.4"/>
<text x="347.94" y="350.60" text-anchor="middle" font-family="Liberation Sans, sans-serif" font-weight="bold" font-size="12">1</text>
<text x="368.22" y="350.60" text-anchor="middle" font-family="Liberation Sans, sans-serif" font-weight="bold" font-size="12">2</text>
<text x="388.50" y="350.60" text-anchor="middle" font-family="Liberation Sans, sans-serif" font-weight="bold" font-size="12">3</text>
<text x="408.78" y="350.60" text-anchor="middle" font-family="Liberation Sans, sans-serif" font-weight="bold" font-size="12">4</text>
<text x="429.06" y="350.60" text-anchor="middle" font-family="Liberation Sans, sans-serif" font-weight="bold" font-size="12">5</text>
<text x="449.34" y="350.60" text-anchor="middle" font-family="Liberation Sans, sans-serif" font-weight="bold" font-size="12">6</text>
<text x="469.62" y="350.60" text-anchor="middle" font-family="Liberation Sans, sans-serif" font-weight="bold" font-size="12">7</text>
<text x="489.90" y="350.60" text-anchor="middle" font-family="Liberation Sans, sans-serif" font-weight="bold" font-size="12">8</text>
<text x="510.18" y="350.60" text-anchor="middle" font-family="Liberation Sans, sans-serif" font-weight="bold" font-size="12">9</text>
<text x="530.46" y="350.60" text-anchor="middle" font-family="Liberation Sans, sans-serif" font-weight="bold" font-size="12">10</text>
<text x="439.20" y="370.10" text-anchor="middle" font-family="Liberation Sans, sans-serif" font-weight="bold" font-size="12">Cardiac frame</text>
<text x="491.00" y="230.00" font-family="Liberation Sans, sans-serif" font-weight="bold" font-style="italic" font-size="14.5" textLength="40.4" lengthAdjust="spacingAndGlyphs">Scan 2</text>
<rect x="491.00" y="232.70" width="41" height="2" fill="#5c5c5c"/>
<text transform="translate(311.20,269.65) rotate(-90)" text-anchor="middle" font-family="Liberation Sans, sans-serif" font-weight="bold" font-size="12.5">WSS (N/m<tspan dy="-4" font-size="8">2</tspan><tspan dy="4">)</tspan></text>
<text x="1.6" y="13.3" font-family="Liberation Sans, sans-serif" font-weight="bold" font-size="14.5" textLength="18.1" lengthAdjust="spacingAndGlyphs">(a)</text>
<text x="286.3" y="13.3" font-family="Liberation Sans, sans-serif" font-weight="bold" font-size="14.5" textLength="18.5" lengthAdjust="spacingAndGlyphs">(b)</text>
<text x="1.9" y="192.1" font-family="Liberation Sans, sans-serif" font-weight="bold" font-size="14.5" textLength="16.3" lengthAdjust="spacingAndGlyphs">(c)</text>
<text x="286.3" y="192.1" font-family="Liberation Sans, sans-serif" font-weight="bold" font-size="14.5" textLength="18.5" lengthAdjust="spacingAndGlyphs">(d)</text>
<line x1="557.6" y1="133.60" x2="573.8" y2="133.60" stroke="#5B9BD5" stroke-width="2.2" stroke-linecap="round"/>
<circle cx="565.6" cy="133.60" r="2.45" fill="#5B9BD5"/>
<text x="576" y="137.60" font-family="Liberation Sans, sans-serif" font-weight="bold" font-size="12" textLength="89.4" lengthAdjust="spacingAndGlyphs">VENC = 60 cm/s</text>
<line x1="557.6" y1="151.35" x2="573.8" y2="151.35" stroke="#ED7D31" stroke-width="2.2" stroke-linecap="round"/>
<circle cx="565.6" cy="151.35" r="2.45" fill="#ED7D31"/>
<text x="576" y="155.35" font-family="Liberation Sans, sans-serif" font-weight="bold" font-size="12" textLength="89.4" lengthAdjust="spacingAndGlyphs">VENC = 70 cm/s</text>
<line x1="557.6" y1="169.10" x2="573.8" y2="169.10" stroke="#A5A5A5" stroke-width="2.2" stroke-linecap="round"/>
<circle cx="565.6" cy="169.10" r="2.45" fill="#A5A5A5"/>
<text x="576" y="173.10" font-family="Liberation Sans, sans-serif" font-weight="bold" font-size="12" textLength="89.4" lengthAdjust="spacingAndGlyphs">VENC = 80 cm/s</text>
<line x1="557.6" y1="186.85" x2="573.8" y2="186.85" stroke="#FFC000" stroke-width="2.2" stroke-linecap="round"/>
<circle cx="565.6" cy="186.85" r="2.45" fill="#FFC000"/>
<text x="576" y="190.85" font-family="Liberation Sans, sans-serif" font-weight="bold" font-size="12" textLength="89.4" lengthAdjust="spacingAndGlyphs">VENC = 90 cm/s</text>
<line x1="557.6" y1="204.60" x2="573.8" y2="204.60" stroke="#4472C4" stroke-width="2.2" stroke-linecap="round"/>
<circle cx="565.6" cy="204.60" r="2.45" fill="#4472C4"/>
<text x="576" y="208.60" font-family="Liberation Sans, sans-serif" font-weight="bold" font-size="12" textLength="97.1" lengthAdjust="spacingAndGlyphs">VENC = 100 cm/s</text>
<line x1="557.6" y1="222.35" x2="573.8" y2="222.35" stroke="#70AD47" stroke-width="2.2" stroke-linecap="round"/>
<circle cx="565.6" cy="222.35" r="2.45" fill="#70AD47"/>
<text x="576" y="226.35" font-family="Liberation Sans, sans-serif" font-weight="bold" font-size="12" textLength="97.1" lengthAdjust="spacingAndGlyphs">VENC = 110 cm/s</text>
<line x1="557.6" y1="240.10" x2="573.8" y2="240.10" stroke="#FF0000" stroke-width="2.2" stroke-linecap="round"/>
<circle cx="565.6" cy="240.10" r="2.45" fill="#FF0000"/>
<text x="576" y="244.10" font-family="Liberation Sans, sans-serif" font-weight="bold" font-size="12" textLength="97.1" lengthAdjust="spacingAndGlyphs">VENC = 120 cm/s</text>
</svg>
</body></html>
